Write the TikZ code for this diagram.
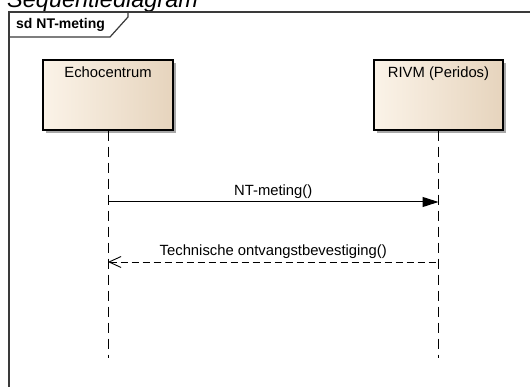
\documentclass[tikz,border=0pt]{standalone}
\usepackage{fontspec}
\setmainfont{Liberation Sans}
\usetikzlibrary{arrows.meta,shadows}
\definecolor{frameC}{HTML}{3A3A3A}
\definecolor{boxL}{HTML}{FBF3E8}
\definecolor{boxR}{HTML}{E6D4BD}
\definecolor{shadowC}{HTML}{A8A8A8}
\begin{document}
\begin{tikzpicture}[x=1pt,y=-1pt,
  every node/.style={font=\fontsize{14.8}{17}\selectfont},
  frameline/.style={draw=frameC, line width=1.5pt},
  lifebox/.style={draw=black, line width=1.1pt, minimum width=130pt, minimum height=70pt, inner sep=0pt,
    left color=boxL, right color=boxR,
    drop shadow={shadow xshift=3pt, shadow yshift=-3pt, fill=shadowC, opacity=1}},
  boxtext/.style={anchor=base, yshift=-18pt, inner sep=0pt},
  lifeline/.style={draw=black, line width=1pt, dash pattern=on 10pt off 6pt},
  callmsg/.style={draw=black, line width=1pt, -{Triangle[length=16pt,width=10pt]}},
  replymsg/.style={draw=black, line width=0.9pt, dash pattern=on 7pt off 4pt, {Straight Barb[length=12pt,width=11pt]}-},
  msglabel/.style={midway, anchor=base, yshift=6pt, inner sep=0pt}
]
\useasboundingbox (0,0) rectangle (530,387);
\fill[white] (0,0) rectangle (530,387);
% title
\node[anchor=base west, inner sep=0pt, font=\fontsize{23.5}{28}\selectfont\itshape] (title) at (7,7.5) {Sequentiediagram};
% frame
\draw[frameline] (9,400) -- (9,12) -- (545,12);
\draw[frameline, line width=1.2pt] (9,37) -- (110,37) -- (128,17) -- (128,12);
\node[anchor=base west, inner sep=0pt, font=\fontsize{14}{16}\selectfont\bfseries] (frametitle) at (16,29) {sd NT-meting};
% lifeline heads
\node[lifebox, label={[boxtext]north:Echocentrum}] (echo) at (108,95) {};
\node[lifebox, minimum width=129pt, label={[boxtext]north:RIVM (Peridos)}] (rivm) at (438.5,95) {};
% lifelines
\coordinate (echoEnd) at (108,358);
\coordinate (rivmEnd) at (438.5,358);
\draw[lifeline] (echo.south) -- (echoEnd);
\draw[lifeline] (rivm.south) -- (rivmEnd);
% messages
\coordinate (m1a) at (108,202);
\coordinate (m1b) at (438.5,202);
\coordinate (m2a) at (108,262);
\coordinate (m2b) at (438.5,262);
\draw[callmsg] (m1a) -- node[msglabel] (l1) {NT-meting()} (m1b);
\draw[replymsg] (m2a) -- node[msglabel] (l2) {Technische ontvangstbevestiging()} (m2b);
\end{tikzpicture}
\end{document}
